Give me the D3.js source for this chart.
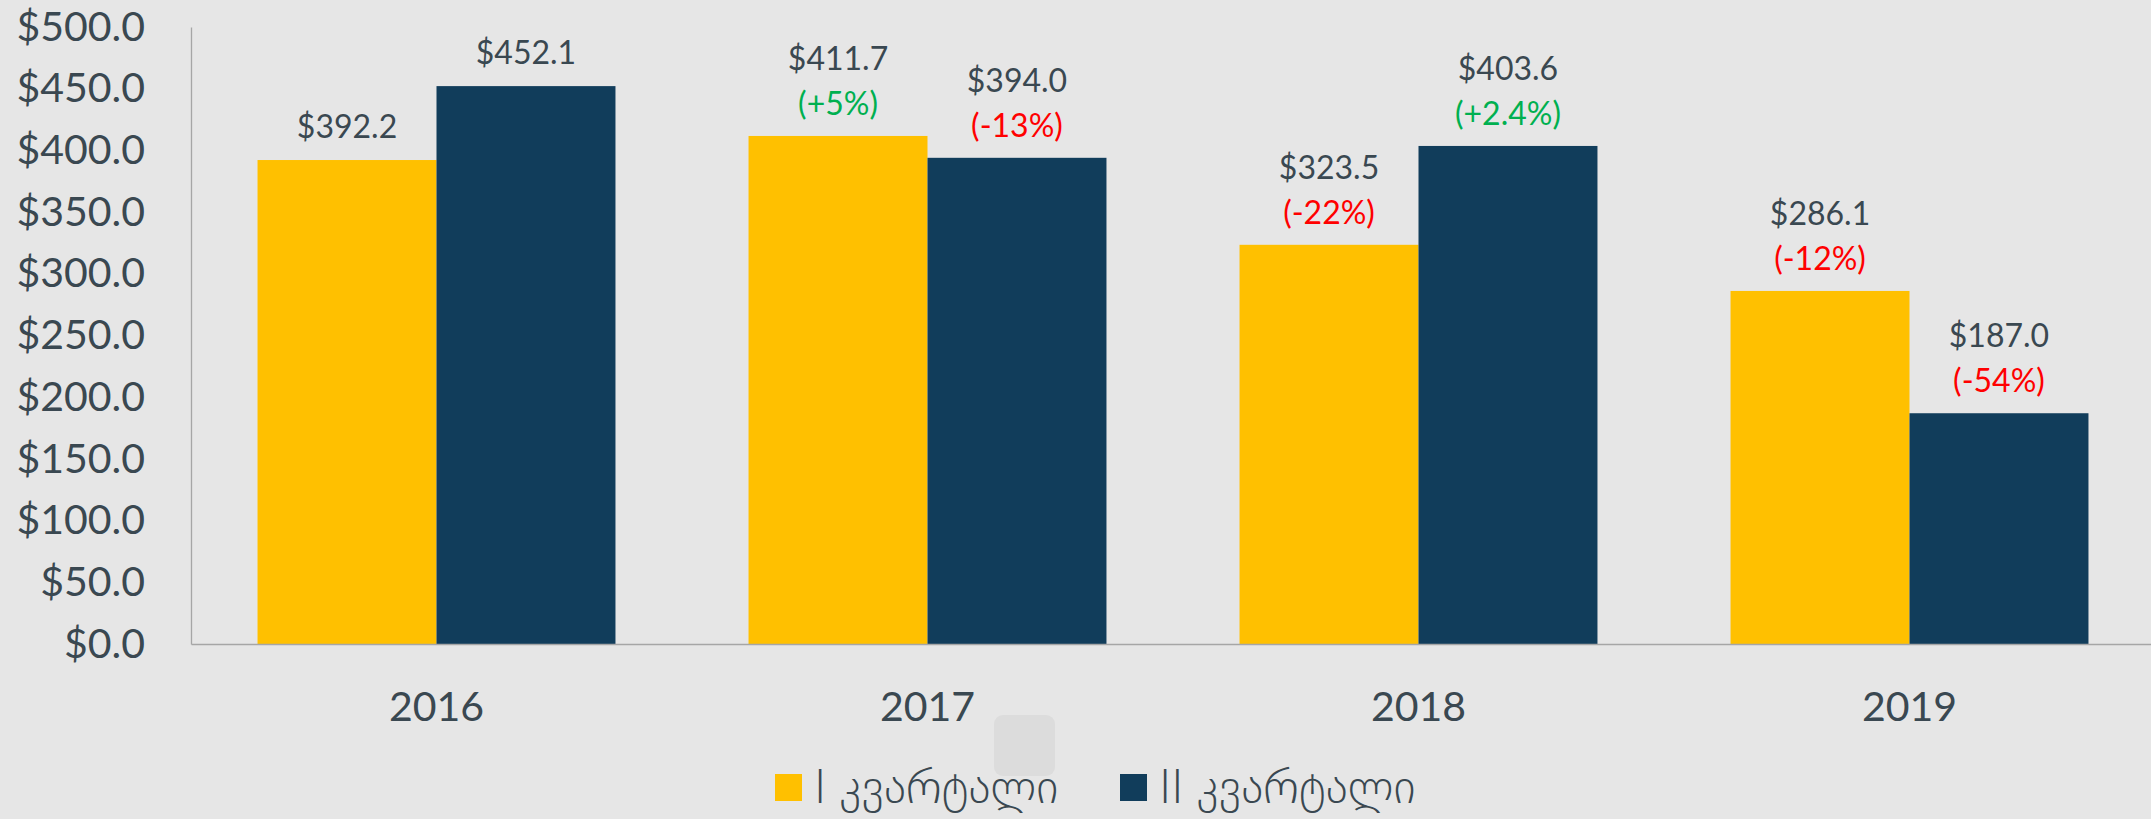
<!DOCTYPE html>
<html>
<head>
<meta charset="utf-8">
<script src="https://cdn.jsdelivr.net/npm/d3@7"></script>
<style>
  html, body { margin: 0; padding: 0; background: #e6e6e6; overflow: hidden; }
  svg { display: block; }
  text { font-family: Lato, 'DejaVu Sans', sans-serif; fill: #3a4851; }
</style>
</head>
<body>
<svg id="chart" width="2151" height="819"></svg>
<script>
   // chart values
   const years = ['2016', '2017', '2018', '2019'];
   const seriesNames = ['I კვარტალი', 'II კვარტალი'];
   const q1Values = [392.2, 411.7, 323.5, 286.1];
   const q2Values = [452.1, 394.0, 403.6, 187.0];
   const q1Changes = [null, '+5%', '-22%', '-12%'];
   const q2Changes = [null, '-13%', '+2.4%', '-54%'];
   const yTickValues = [0, 50, 100, 150, 200, 250, 300, 350, 400, 450, 500];

   const colors = {
       q1: '#ffc000',
       q2: '#113d5b',
       axis: '#a6a6a6',
       up: '#00b050',
       down: '#ff0000'
   };

   const plot = { left: 191, right: 2155, top: 27, bottom: 644 };

   const svg = d3.select('#chart');

   svg.append('rect')
       .attr('width', 2151)
       .attr('height', 819)
       .attr('fill', '#e6e6e6');

   const x0 = d3.scaleBand()
       .domain(years)
       .range([plot.left, plot.right])
       .paddingInner(0.271)
       .paddingOuter(0.1355);

   const x1 = d3.scaleBand()
       .domain([0, 1])
       .range([0, x0.bandwidth()]);

   const y = d3.scaleLinear()
       .domain([0, 500])
       .range([plot.bottom, plot.top]);

   // rows of the grouped bar chart
   const rows = years.map((year, i) => ({
       year,
       bars: [
           { series: 0, value: q1Values[i], change: q1Changes[i], color: colors.q1 },
           { series: 1, value: q2Values[i], change: q2Changes[i], color: colors.q2 }
       ]
   }));

   const groups = svg.append('g')
       .selectAll('g')
       .data(rows)
       .join('g')
       .attr('transform', d => `translate(${x0(d.year)},0)`);

   groups.selectAll('rect')
       .data(d => d.bars)
       .join('rect')
       .attr('x', d => x1(d.series))
       .attr('y', d => y(d.value))
       .attr('width', x1.bandwidth())
       .attr('height', d => y(0) - y(d.value))
       .attr('fill', d => d.color);

   // value labels, with the change against the year before underneath
   const labels = groups.selectAll('g.label')
       .data(d => d.bars)
       .join('g')
       .attr('class', 'label')
       .attr('transform', d => `translate(${x1(d.series) + x1.bandwidth() / 2},${y(d.value)})`);

   labels.append('text')
       .attr('text-anchor', 'middle')
       .attr('y', d => d.change ? -66 : -22)
       .style('font-size', '32px')
       .text(d => '$' + d.value.toFixed(1));

   labels.filter(d => d.change)
       .append('text')
       .attr('text-anchor', 'middle')
       .attr('y', -21)
       .style('font-size', '32px')
       .style('fill', d => d.change.startsWith('+') ? colors.up : colors.down)
       .text(d => `(${d.change})`);

   // axes
   const yAxis = svg.append('g')
       .attr('transform', `translate(${plot.left},0)`)
       .call(d3.axisLeft(y)
           .tickValues(yTickValues)
           .tickSize(0)
           .tickSizeOuter(0)
           .tickPadding(46)
           .tickFormat(d => '$' + d.toFixed(1)));

   yAxis.select('.domain').attr('stroke', colors.axis).attr('stroke-width', 1.3);
   yAxis.selectAll('text')
       .style('font-size', '41px')
       .style('font-family', null)
       .attr('fill', null);

   const xAxis = svg.append('g')
       .attr('transform', `translate(0,${plot.bottom})`)
       .call(d3.axisBottom(x0)
           .tickSize(0)
           .tickSizeOuter(0)
           .tickPadding(48));

   xAxis.select('.domain').attr('stroke', colors.axis).attr('stroke-width', 1.3);
   xAxis.selectAll('text')
       .style('font-size', '41px')
       .style('font-family', null)
       .attr('fill', null);

   // the faint rounded square seen under the 2017 label
   svg.append('rect')
       .attr('x', 994)
       .attr('y', 715)
       .attr('width', 61)
       .attr('height', 61)
       .attr('rx', 9)
       .attr('fill', '#dcdcdc');

   // legend
   const legendX = [775, 1120];
   const legend = svg.append('g')
       .selectAll('g')
       .data(seriesNames)
       .join('g')
       .attr('transform', (d, i) => `translate(${legendX[i]},774)`);

   legend.append('rect')
       .attr('width', 27)
       .attr('height', 27)
       .attr('fill', (d, i) => i === 0 ? colors.q1 : colors.q2);

   legend.append('text')
       .attr('x', 39)
       .attr('y', 29)
       .style('font-size', '47px')
       .style('font-weight', 300)
       .text(d => d);
</script>
</body>
</html>
